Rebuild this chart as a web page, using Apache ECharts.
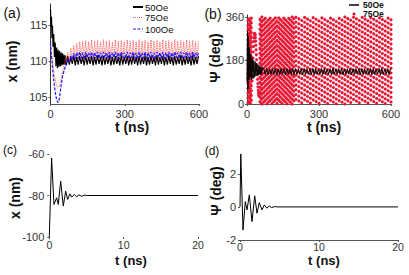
<!DOCTYPE html>
<html><head><meta charset="utf-8">
<script src="https://cdn.jsdelivr.net/npm/echarts@6/dist/echarts.min.js"></script>
<style>html,body{margin:0;padding:0;background:#fff}#c{width:409px;height:275px}</style>
</head><body><div id="c"></div>
<script>
// ---- panel (a) & (b) time grid (ns) ----
const tA = [0,2,4,6,8,10,13,16,19,22,25,28,31,34,37,40,43,46,49,52,55,58,61,64,
70,76,82,88,94,100,106,112,118,124,130,136,142,148,154,160,166,172,178,184,190,196,202,208,214,220,226,232,238,244,
250,256,262,268,274,280,286,292,298,304,310,316,322,328,334,340,346,352,358,364,370,376,382,388,394,400,406,412,418,424,
430,436,442,448,454,460,466,472,478,484,490,496,502,508,514,520,526,532,538,544,550,556,562,568,574,580,586,592,598];
// x (nm), 50 Oe
const a50 = [117.3,114.8,116.2,113.2,115.0,112.0,113.8,110.6,112.6,109.3,111.9,109.0,111.6,109.2,111.4,109.3,111.2,109.4,111.1,109.5,110.9,109.5,110.8,109.5,
110.7,109.5,110.6,109.6,110.8,109.4,110.6,109.5,110.7,109.6,
110.6,109.4,110.8,109.5,110.6,109.6,110.7,109.4,110.6,109.5,
110.8,109.6,110.6,109.4,110.7,109.5,110.6,109.6,110.8,109.4,
110.6,109.5,110.7,109.6,110.6,109.4,110.8,109.5,110.6,109.6,
110.7,109.4,110.6,109.5,110.8,109.6,110.6,109.4,110.7,109.5,
110.6,109.6,110.8,109.4,110.6,109.5,110.7,109.6,110.6,109.4,
110.8,109.5,110.6,109.6,110.7,109.4,110.6,109.5,110.8,109.6,
110.6,109.4,110.7,109.5,110.6,109.6,110.8,109.4,110.6,109.5,
110.7,109.6,110.6,109.4,110.8,109.5,110.6,109.6,110.7];
// x (nm), 75 Oe
const a75 = [112.2,111.5,111.0,110.4,109.9,109.3,108.6,108.0,107.4,106.9,106.6,106.4,106.3,106.4,106.6,107.0,107.5,108.0,108.5,109.0,109.5,109.9,110.6,109.8,
111.2,110.0,111.8,110.1,112.2,110.2,112.5,110.2,112.7,110.3,
112.8,110.1,112.9,110.3,112.7,110.2,113.0,110.1,112.8,110.3,
112.9,110.2,112.7,110.1,113.0,110.3,112.8,110.2,112.9,110.1,
112.7,110.3,113.0,110.2,112.8,110.1,112.9,110.3,112.7,110.2,
113.0,110.1,112.8,110.3,112.9,110.2,112.7,110.1,113.0,110.3,
112.8,110.2,112.9,110.1,112.7,110.3,113.0,110.2,112.8,110.1,
112.9,110.3,112.7,110.2,113.0,110.1,112.8,110.3,112.9,110.2,
112.7,110.1,113.0,110.3,112.8,110.2,112.9,110.1,112.7,110.3,
113.0,110.2,112.8,110.1,112.9,110.3,112.7,110.2,112.8];
// x (nm), 100 Oe
const a100 = [112.6,111.6,110.8,110.0,109.2,108.4,107.4,106.5,105.7,105.1,104.6,104.3,104.2,104.4,105.0,105.8,106.6,107.3,107.9,108.3,108.7,109.0,109.5,109.4,
110.2,109.9,110.8,110.2,111.1,110.3,111.2,110.4,111.3,110.4,
111.2,110.3,111.3,110.5,111.2,110.4,111.3,110.3,111.2,110.5,
111.3,110.4,111.2,110.3,111.3,110.5,111.2,110.4,111.3,110.3,
111.2,110.5,111.3,110.4,111.2,110.3,111.3,110.5,111.2,110.4,
111.3,110.3,111.2,110.5,111.3,110.4,111.2,110.3,111.3,110.5,
111.2,110.4,111.3,110.3,111.2,110.5,111.3,110.4,111.2,110.3,
111.3,110.5,111.2,110.4,111.3,110.3,111.2,110.5,111.3,110.4,
111.2,110.3,111.3,110.5,111.2,110.4,111.3,110.3,111.2,110.5,
111.3,110.4,111.2,110.3,111.3,110.5,111.2,110.4,111.3];
// psi (deg), 50 Oe
const b50 = [90,300,60,280,100,235,110,205,100,190,105,180,110,175,115,168,118,162,120,158,122,154,123,151,
146,122,147,121,145,123,146,122,147,121,
145,122,146,123,147,121,146,122,145,123,
147,121,146,122,145,123,146,121,147,122,
145,123,146,122,147,121,146,122,145,123,
147,121,146,122,145,123,146,121,147,122,
145,123,146,122,147,121,146,122,145,123,
147,121,146,122,145,123,146,121,147,122,
145,123,146,122,147,121,146,122,145,123,
147,121,146,122,145,123,146,121,147];
// psi (deg), 75 Oe sampled points: sample times and psi values at each time
const bColT = [4,9,14,18,54,58,62,69,76,83,90,97,104,111,118,125,132,139,146,153,160,167,174,181,188,195,
204,216,228,240,252,264,276,288,300,312,324,336,348,360,372,384,396,408,420,432,444,456,468,480,492,504,516,528,540,552,564,576,588,600];
const bColPsi = [
[5,25,45,65,85,105,125,145,165,185,205,225,245,265,285,305,325,345],
[12,32,52,72,92,112,132,152,172,192,212,232,252,272,292,312,332,352],
[3,23,43,63,83,103,123,143,163,183,203,223,243,263,283,303,323,343],
[15,35,55,75,95,115,135,155,175,195,215,235,255,275,295,315,335,355],
[10,30,50,70,90,110,130,150,170,190,210,230,250,270,290,310,330,350],
[4,24,44,64,84,104,124,144,164,184,204,224,244,264,284,304,324,344],
[0,20,40,60,80,100,120,140,160,180,200,220,240,260,280,300,320,340,360],
[7,27,47,67,87,107,127,147,167,187,207,227,247,267,287,307,327,347],
[14,34,54,74,94,114,134,154,174,194,214,234,254,274,294,314,334,354],
[1,21,41,61,81,101,121,141,161,181,201,221,241,261,281,301,321,341],
[8,28,48,68,88,108,128,148,168,188,208,228,248,268,288,308,328,348],
[15,35,55,75,95,115,135,155,175,195,215,235,255,275,295,315,335,355],
[2,22,42,62,82,102,122,142,162,182,202,222,242,262,282,302,322,342],
[9,29,49,69,89,109,129,149,169,189,209,229,249,269,289,309,329,349],
[16,36,56,76,96,116,136,156,176,196,216,236,256,276,296,316,336,356],
[3,23,43,63,83,103,123,143,163,183,203,223,243,263,283,303,323,343],
[16,36,56,76,96,116,136,156,176,196,216,236,256,276,296,316,336,356],
[9,29,49,69,89,109,129,149,169,189,209,229,249,269,289,309,329,349],
[2,22,42,62,82,102,122,142,162,182,202,222,242,262,282,302,322,342],
[15,35,55,75,95,115,135,155,175,195,215,235,255,275,295,315,335,355],
[8,28,48,68,88,108,128,148,168,188,208,228,248,268,288,308,328,348],
[1,21,41,61,81,101,121,141,161,181,201,221,241,261,281,301,321,341],
[14,34,54,74,94,114,134,154,174,194,214,234,254,274,294,314,334,354],
[7,27,47,67,87,107,127,147,167,187,207,227,247,267,287,307,327,347],
[0,20,40,60,80,100,120,140,160,180,200,220,240,260,280,300,320,340,360],
[13,33,53,73,93,113,133,153,173,193,213,233,253,273,293,313,333,353],
[19,39,59,79,99,119,139,159,179,199,219,239,259,279,299,319,339,359],
[12,32,52,72,92,112,132,152,172,192,212,232,252,272,292,312,332,352],
[5,25,45,65,85,105,125,145,165,185,205,225,245,265,285,305,325,345],
[18,38,58,78,98,118,138,158,178,198,218,238,258,278,298,318,338,358],
[11,31,51,71,91,111,131,151,171,191,211,231,251,271,291,311,331,351],
[4,24,44,64,84,104,124,144,164,184,204,224,244,264,284,304,324,344],
[17,37,57,77,97,117,137,157,177,197,217,237,257,277,297,317,337,357],
[10,30,50,70,90,110,130,150,170,190,210,230,250,270,290,310,330,350],
[3,23,43,63,83,103,123,143,163,183,203,223,243,263,283,303,323,343],
[16,36,56,76,96,116,136,156,176,196,216,236,256,276,296,316,336,356],
[9,29,49,69,89,109,129,149,169,189,209,229,249,269,289,309,329,349],
[2,22,42,62,82,102,122,142,162,182,202,222,242,262,282,302,322,342],
[15,35,55,75,95,115,135,155,175,195,215,235,255,275,295,315,335,355],
[8,28,48,68,88,108,128,148,168,188,208,228,248,268,288,308,328,348],
[1,21,41,61,81,101,121,141,161,181,201,221,241,261,281,301,321,341],
[14,34,54,74,94,114,134,154,174,194,214,234,254,274,294,314,334,354],
[7,27,47,67,87,107,127,147,167,187,207,227,247,267,287,307,327,347],
[0,20,40,60,80,100,120,140,160,180,200,220,240,260,280,300,320,340,360],
[13,33,53,73,93,113,133,153,173,193,213,233,253,273,293,313,333,353],
[6,26,46,66,86,106,126,146,166,186,206,226,246,266,286,306,326,346],
[19,39,59,79,99,119,139,159,179,199,219,239,259,279,299,319,339,359],
[12,32,52,72,92,112,132,152,172,192,212,232,252,272,292,312,332,352],
[5,25,45,65,85,105,125,145,165,185,205,225,245,265,285,305,325,345],
[18,38,58,78,98,118,138,158,178,198,218,238,258,278,298,318,338,358],
[11,31,51,71,91,111,131,151,171,191,211,231,251,271,291,311,331,351],
[4,24,44,64,84,104,124,144,164,184,204,224,244,264,284,304,324,344],
[17,37,57,77,97,117,137,157,177,197,217,237,257,277,297,317,337,357],
[10,30,50,70,90,110,130,150,170,190,210,230,250,270,290,310,330,350],
[3,23,43,63,83,103,123,143,163,183,203,223,243,263,283,303,323,343],
[16,36,56,76,96,116,136,156,176,196,216,236,256,276,296,316,336,356],
[9,29,49,69,89,109,129,149,169,189,209,229,249,269,289,309,329,349],
[2,22,42,62,82,102,122,142,162,182,202,222,242,262,282,302,322,342],
[15,35,55,75,95,115,135,155,175,195,215,235,255,275,295,315,335,355],
[8,28,48,68,88,108,128,148,168,188,208,228,248,268,288,308,328,348]
];
// transient arch of the 75 Oe trace
const bArchT = [21,22,23,24,25,26,27,28,29,30,31,32,33,34,35,36,37,38,39,40,41,42,43,44,45,46,47,48,49,50];
const bArchPsi = [95,115,140,165,190,215,238,258,273,284,290,292,290,284,274,260,243,224,204,183,162,141,121,102,85,70,57,46,38,32];
// panel (c): x (nm) vs t (ns)
const tC = [0,0.31,0.63,0.99,1.21,1.53,1.88,2.2,2.47,2.78,3.0,3.36,3.67,4.0,4.35,4.7,5.1,20];
const xC = [-100,-62,-84.3,-81.1,-84.3,-73.1,-85.1,-77.9,-81.9,-79.2,-80.8,-79.5,-80.6,-79.7,-80.4,-79.8,-80,-80];
// panel (d): psi (deg) vs t (ns)
const tD = [0,0.1,0.38,0.67,0.89,1.18,1.52,1.86,2.15,2.44,2.78,3.08,3.4,3.7,4.0,4.4,4.8,20];
const psiD = [0,3.2,-1.4,0.32,-0.18,0.73,-0.89,0.67,-0.38,0.26,-0.18,0.12,-0.08,0.06,-0.04,0.02,0,0];
// tick labels
const tickAx = [0,300,600], tickAy = [105,110,115];
const tickBx = [0,300,600], tickBy = [0,180,360];
const tickCx = [0,10,20], tickCy = [-100,-80,-60];
const tickDx = [0,10,20], tickDy = [-2,0,2];
const legendA = ['50Oe','75Oe','100Oe'];
const legendB = ['50Oe','75Oe'];

const FF = '"Liberation Sans", Arial, sans-serif';
const zip = (xs, ys) => xs.map((x, i) => [x, ys[i]]);
const bDots = bColT.flatMap((t, i) => bColPsi[i].map(p => [t, p])).concat(zip(bArchT, bArchPsi));

function xAx(gi, min, max, ticks, showLine, margin, fs) {
  return {gridIndex: gi, type: 'value', min, max,
    axisLine: {show: showLine, onZero: false, lineStyle: {color: '#555', width: 1}},
    axisTick: {show: true, length: 2, customValues: ticks, lineStyle: {color: '#555'}},
    axisLabel: {customValues: ticks, margin, fontSize: fs || 11, color: '#333', fontFamily: FF},
    splitLine: {show: false}};
}
function yAx(gi, min, max, ticks, showLine, margin) {
  return {gridIndex: gi, type: 'value', min, max,
    axisLine: {show: showLine, onZero: false, lineStyle: {color: '#333', width: 1}},
    axisTick: {show: true, length: 2, customValues: ticks, lineStyle: {color: '#555'}},
    axisLabel: {customValues: ticks, margin, fontSize: 11, color: '#333', fontFamily: FF},
    splitLine: {show: false}};
}
function txt(x, y, s, size, weight, rot) {
  return {type: 'text', x, y, rotation: rot || 0, z: 100,
    style: {text: s, fill: '#111', fontSize: size, fontWeight: weight, fontFamily: FF, align: 'center', verticalAlign: 'middle'}};
}
function ltxt(x, y, s, size, weight) {
  return {type: 'text', x, y, z: 100,
    style: {text: s, fill: '#111', fontSize: size, fontWeight: weight, fontFamily: FF, align: 'left', verticalAlign: 'middle'}};
}

const chart = echarts.init(document.getElementById('c'), null, {renderer: 'svg'});
chart.setOption({
  animation: false,
  backgroundColor: '#fff',
  grid: [
    {left: 50.5, top: 4, width: 148.5, height: 100},
    {left: 247, top: 15, width: 144, height: 89},
    {left: 49.3, top: 154, width: 148.7, height: 83},
    {left: 240, top: 149, width: 158, height: 91}
  ],
  xAxis: [
    xAx(0, 0, 600, tickAx, true, 4),
    xAx(1, 0, 600, tickBx, true, 4),
    xAx(2, 0, 20, tickCx, false, 2, 10.5),
    xAx(3, 0, 20, tickDx, true, 1, 10.5)
  ],
  yAxis: [
    yAx(0, 104, 118, tickAy, true, 3),
    yAx(1, 0, 368, tickBy, true, 3),
    yAx(2, -100, -60, tickCy, false, 5),
    yAx(3, -2, 3.5, tickDy, false, 4)
  ],
  series: [
    {name: legendA[0], type: 'line', xAxisIndex: 0, yAxisIndex: 0, data: zip(tA, a50), symbol: 'none',
      lineStyle: {color: '#000', width: 1.2}},
    {name: legendA[1], type: 'line', xAxisIndex: 0, yAxisIndex: 0, data: zip(tA, a75), symbol: 'none',
      lineStyle: {color: 'rgba(255,70,70,0.8)', width: 0.9, type: [1.5, 0.8]}},
    {name: legendA[2], type: 'line', xAxisIndex: 0, yAxisIndex: 0, data: zip(tA, a100), symbol: 'none',
      lineStyle: {color: '#1a1aff', width: 1.2, type: [3, 1.5]}},
    {name: legendB[1], type: 'scatter', xAxisIndex: 1, yAxisIndex: 1, data: bDots, symbolSize: 3,
      itemStyle: {color: '#ff1010', borderColor: 'rgba(110,90,255,0.55)', borderWidth: 0.35, opacity: 1}},
    {name: legendB[0], type: 'line', xAxisIndex: 1, yAxisIndex: 1, data: zip(tA, b50), symbol: 'none',
      lineStyle: {color: '#000', width: 1}},
    {name: 'c', type: 'line', xAxisIndex: 2, yAxisIndex: 2, data: zip(tC, xC), symbol: 'none',
      lineStyle: {color: '#000', width: 1}},
    {name: 'd', type: 'line', xAxisIndex: 3, yAxisIndex: 3, data: zip(tD, psiD), symbol: 'none',
      lineStyle: {color: '#000', width: 1}}
  ],
  graphic: [
    txt(12, 13, '(a)', 14, 'normal'),
    txt(213, 14, '(b)', 14, 'normal'),
    txt(10, 150, '(c)', 12, 'normal'),
    txt(212, 151, '(d)', 12, 'normal'),
    txt(11.5, 61.5, 'x (nm)', 14, 'bold', Math.PI / 2),
    txt(132, 127, 't (ns)', 14, 'bold'),
    txt(215, 58, 'Ψ (deg)', 14, 'bold', Math.PI / 2),
    txt(324, 127, 't (ns)', 14, 'bold'),
    txt(14.5, 198, 'x (nm)', 14, 'bold', Math.PI / 2),
    txt(131, 260, 't (ns)', 13, 'bold'),
    txt(216, 191, 'Ψ (deg)', 14, 'bold', Math.PI / 2),
    txt(324, 260, 't (ns)', 13, 'bold'),
    // legend (a)
    {type: 'line', z: 100, shape: {x1: 133, y1: 7, x2: 143, y2: 7}, style: {stroke: '#000', lineWidth: 2}},
    {type: 'line', z: 100, shape: {x1: 133, y1: 17.5, x2: 143, y2: 17.5}, style: {stroke: 'rgba(255,60,60,0.9)', lineWidth: 1, lineDash: [1, 1]}},
    {type: 'line', z: 100, shape: {x1: 133, y1: 29, x2: 143, y2: 29}, style: {stroke: '#1a1aff', lineWidth: 1.2, lineDash: [3, 1.5]}},
    ltxt(145, 7, legendA[0], 9.5, 'normal'),
    ltxt(145, 17.5, legendA[1], 9.5, 'normal'),
    ltxt(145, 29, legendA[2], 9.5, 'normal'),
    // legend (b)
    {type: 'line', z: 100, shape: {x1: 349, y1: 5, x2: 359, y2: 5}, style: {stroke: '#000', lineWidth: 1.5}},
    {type: 'circle', z: 100, shape: {cx: 354, cy: 14, r: 1.5}, style: {fill: '#ff1010', stroke: 'rgba(110,90,255,0.55)', lineWidth: 0.35}},
    ltxt(363, 5, legendB[0], 8.5, 'bold'),
    ltxt(363, 14, legendB[1], 8.5, 'bold')
  ]
});
</script></body></html>
